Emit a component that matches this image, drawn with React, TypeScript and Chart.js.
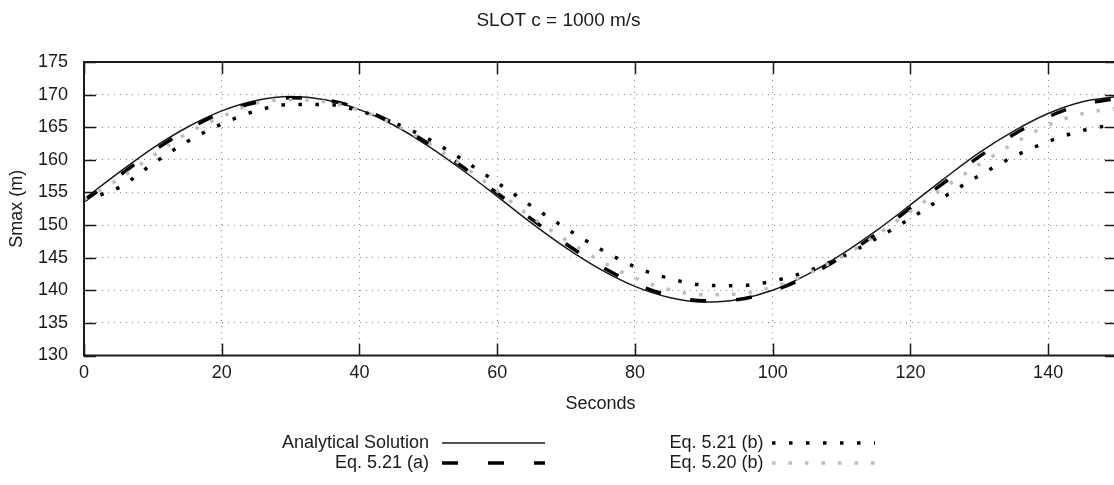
import React, { useEffect, useRef } from "react";
import { Chart, registerables } from "chart.js";

Chart.register(...registerables);

// ---------- data ----------
const seconds = [0, 5, 10, 15, 20, 25, 30, 35, 40, 45, 50, 55, 60, 65, 70, 75, 80, 85, 90, 95, 100, 105, 110, 115, 120, 125, 130, 135, 140, 145, 150];
const analyticalSolution = [154.0, 158.0, 161.8, 165.0, 167.5, 169.1, 169.7, 169.2, 167.7, 165.3, 162.1, 158.4, 154.4, 150.3, 146.5, 143.2, 140.6, 138.9, 138.2, 138.6, 140.0, 142.4, 145.5, 149.1, 153.1, 157.2, 161.1, 164.4, 167.1, 168.9, 169.7];
const eq521a = [153.7, 157.5, 161.3, 164.6, 167.2, 168.8, 169.5, 169.2, 167.9, 165.6, 162.5, 158.9, 154.9, 150.9, 147.1, 143.7, 141.0, 139.2, 138.4, 138.6, 139.9, 142.1, 145.1, 148.6, 152.6, 156.6, 160.5, 163.9, 166.6, 168.5, 169.4];
const eq521b = [153.9, 155.7, 159.4, 162.8, 165.5, 167.5, 168.5, 168.5, 167.5, 165.7, 163.2, 160.0, 156.5, 152.9, 149.5, 146.3, 143.6, 141.8, 140.8, 140.7, 141.4, 142.9, 145.1, 147.9, 151.0, 154.4, 157.6, 160.5, 162.8, 164.5, 165.5];
const eq520b = [153.9, 157.0, 160.6, 164.1, 166.6, 168.7, 169.2, 168.9, 167.6, 165.5, 162.5, 159.1, 155.2, 151.2, 147.7, 144.5, 141.9, 140.1, 139.3, 139.4, 140.5, 142.5, 145.1, 148.4, 152.1, 155.8, 159.3, 162.5, 165.3, 167.1, 167.9];

const xTickValues = [0, 20, 40, 60, 80, 100, 120, 140];
const yTickValues = [130, 135, 140, 145, 150, 155, 160, 165, 170, 175];
const seriesLabels = ["Analytical Solution", "Eq. 5.21 (a)", "Eq. 5.21 (b)", "Eq. 5.20 (b)"];
const chartTitle = "SLOT c = 1000 m/s";
const xAxisTitle = "Seconds";
const yAxisTitle = "Smax (m)";

// ---------- styles ----------
const FONT = "'Liberation Sans', Arial, sans-serif";
const INK = "#1a1a1a";
const GRID = "#8a8a8a";
const GRAY_DOTS = "#bdbdbd";

const toPoints = (vals: number[]) => seconds.map((t, i) => ({ x: t, y: vals[i] }));

// gnuplot-like frame: border + inward tick marks on all four sides
const framePlugin = {
  id: "gnuFrame",
  afterDatasetsDraw(chart: any) {
    const { ctx, chartArea, scales } = chart;
    const { left, right, top, bottom } = chartArea;
    const xs = scales.x;
    const ys = scales.y;
    const L = 12;
    ctx.save();
    ctx.setLineDash([]);
    ctx.strokeStyle = INK;
    ctx.lineWidth = 1.5;
    ctx.beginPath();
    for (const t of xs.ticks) {
      const px = Math.round(xs.getPixelForValue(t.value)) + 0.5;
      ctx.moveTo(px, bottom);
      ctx.lineTo(px, bottom - L);
      ctx.moveTo(px, top);
      ctx.lineTo(px, top + L);
    }
    for (const t of ys.ticks) {
      const py = Math.round(ys.getPixelForValue(t.value)) + 0.5;
      ctx.moveTo(left, py);
      ctx.lineTo(left + L, py);
      ctx.moveTo(right, py);
      ctx.lineTo(right - L, py);
    }
    ctx.stroke();
    ctx.lineWidth = 2;
    ctx.strokeRect(left, top, right - left, bottom - top);
    ctx.restore();
  },
};

// gnuplot-like key: text right-aligned, sample to the right, two columns
const keyPlugin = {
  id: "gnuKey",
  afterDraw(chart: any) {
    const { ctx } = chart;
    const entries = [
      { ds: 0, textRight: 429, sampleStart: 442, y: 443 },
      { ds: 1, textRight: 429, sampleStart: 442, y: 463 },
      { ds: 2, textRight: 763.5, sampleStart: 772, y: 443 },
      { ds: 3, textRight: 763.5, sampleStart: 772, y: 463 },
    ];
    const sampleLen = 103;
    ctx.save();
    ctx.font = `18px ${FONT}`;
    ctx.textAlign = "right";
    ctx.textBaseline = "middle";
    for (const e of entries) {
      const ds = chart.data.datasets[e.ds];
      ctx.fillStyle = INK;
      ctx.fillText(ds.label, e.textRight, e.y);
      ctx.beginPath();
      ctx.strokeStyle = ds.borderColor;
      ctx.lineWidth = ds.borderWidth;
      ctx.lineCap = "butt";
      ctx.setLineDash(ds.borderDash || []);
      ctx.moveTo(e.sampleStart, e.y);
      ctx.lineTo(e.sampleStart + sampleLen, e.y);
      ctx.stroke();
    }
    ctx.restore();
  },
};

export default function App() {
  const canvasRef = useRef<HTMLCanvasElement | null>(null);

  useEffect(() => {
    if (!canvasRef.current) return;
    const chart = new Chart(canvasRef.current, {
      type: "line",
      data: {
        datasets: [
          {
            label: seriesLabels[0],
            data: toPoints(analyticalSolution),
            borderColor: INK,
            borderWidth: 1.5,
            borderDash: [],
            pointRadius: 0,
            cubicInterpolationMode: "monotone",
            fill: false,
            order: 4,
          },
          {
            label: seriesLabels[1],
            data: toPoints(eq521a),
            borderColor: "#000000",
            borderWidth: 3.5,
            borderDash: [16, 30],
            borderCapStyle: "butt",
            pointRadius: 0,
            cubicInterpolationMode: "monotone",
            fill: false,
            order: 3,
          },
          {
            label: seriesLabels[2],
            data: toPoints(eq521b),
            borderColor: "#000000",
            borderWidth: 3.5,
            borderDash: [3.5, 13.5],
            borderCapStyle: "butt",
            pointRadius: 0,
            cubicInterpolationMode: "monotone",
            fill: false,
            order: 2,
          },
          {
            label: seriesLabels[3],
            data: toPoints(eq520b),
            borderColor: GRAY_DOTS,
            borderWidth: 3.5,
            borderDash: [3.5, 13],
            borderCapStyle: "butt",
            pointRadius: 0,
            cubicInterpolationMode: "monotone",
            fill: false,
            order: 1,
          },
        ] as any,
      },
      options: {
        responsive: false,
        animation: false,
        devicePixelRatio: 1,
        layout: { padding: { top: 0, right: 3, bottom: 0, left: 0 } },
        plugins: {
          legend: { display: false },
          tooltip: { enabled: false },
          title: {
            display: true,
            text: chartTitle,
            color: INK,
            font: { family: FONT, size: 19, weight: "normal" },
            padding: { top: 9.6, bottom: 29.6 },
          },
        },
        scales: {
          x: {
            type: "linear",
            min: 0,
            max: 150,
            afterBuildTicks: (s: any) => {
              s.ticks = xTickValues.map((v) => ({ value: v }));
            },
            afterFit: (s: any) => {
              s.height = 129.5;
            },
            ticks: {
              color: INK,
              font: { family: FONT, size: 18 },
              padding: 7,
              maxRotation: 0,
              autoSkip: false,
            },
            grid: { color: GRID, lineWidth: 1, drawTicks: false },
            border: { display: false, dash: [1, 5] },
            title: {
              display: true,
              text: xAxisTitle,
              color: INK,
              font: { family: FONT, size: 18 },
              padding: { top: 0, bottom: 70.2 },
            },
          },
          y: {
            type: "linear",
            min: 130,
            max: 175,
            afterBuildTicks: (s: any) => {
              s.ticks = yTickValues.map((v) => ({ value: v }));
            },
            afterFit: (s: any) => {
              s.width = 84;
            },
            ticks: {
              color: INK,
              font: { family: FONT, size: 18 },
              padding: 16,
              autoSkip: false,
            },
            grid: { color: GRID, lineWidth: 1, drawTicks: false },
            border: { display: false, dash: [1, 5] },
            title: {
              display: true,
              text: yAxisTitle,
              color: INK,
              font: { family: FONT, size: 18 },
              padding: { top: 6, bottom: 0 },
            },
          },
        },
      } as any,
      plugins: [framePlugin, keyPlugin],
    });
    return () => chart.destroy();
  }, []);

  return (
    <div
      style={{
        position: "absolute",
        left: 0,
        top: 0,
        width: 1114,
        height: 485,
        overflow: "hidden",
        background: "#ffffff",
      }}
    >
      <canvas ref={canvasRef} width={1120} height={485} style={{ display: "block" }} />
    </div>
  );
}
